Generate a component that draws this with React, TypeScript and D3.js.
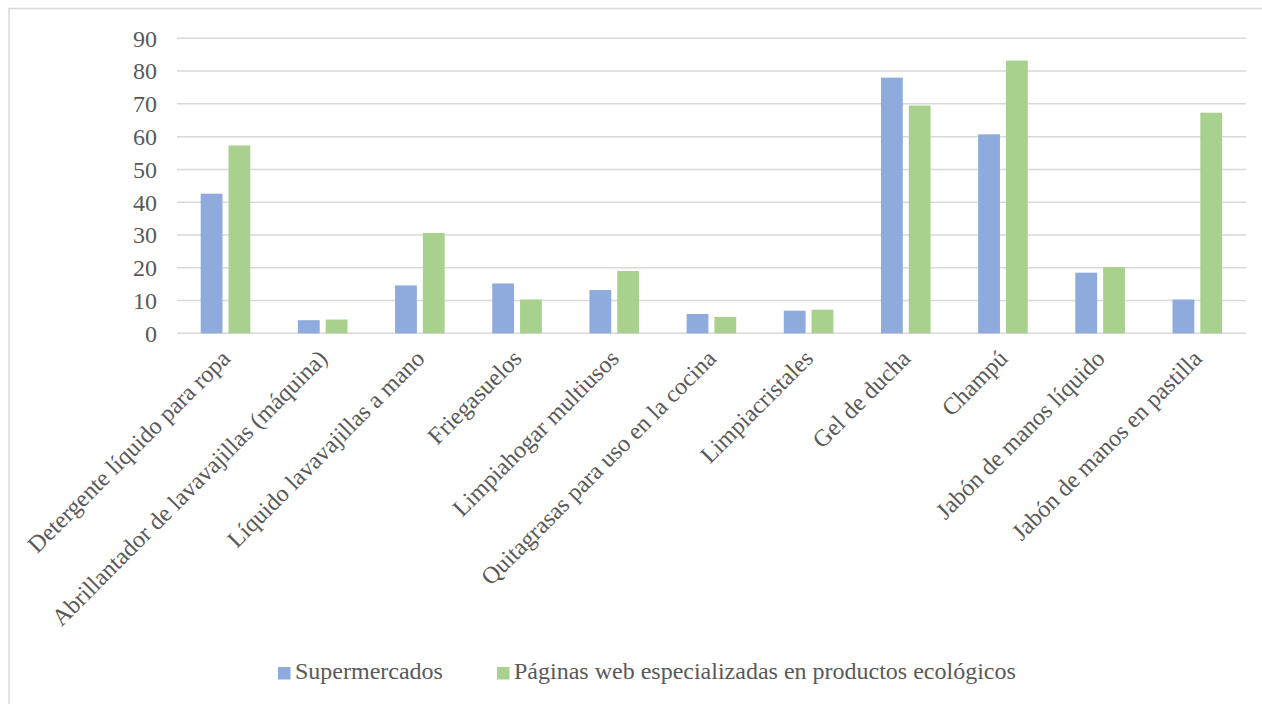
import React from "react";
import * as d3 from "d3";

const categories = [
  "Detergente líquido para ropa",
  "Abrillantador de lavavajillas (máquina)",
  "Líquido lavavajillas a mano",
  "Friegasuelos",
  "Limpiahogar multiusos",
  "Quitagrasas para uso en la cocina",
  "Limpiacristales",
  "Gel de ducha",
  "Champú",
  "Jabón de manos líquido",
  "Jabón de manos en pastilla",
];
const seriesNames = ["Supermercados", "Páginas web especializadas en productos ecológicos"];
const supermercados = [42.6, 4.0, 14.6, 15.2, 13.2, 5.9, 6.9, 78.0, 60.7, 18.5, 10.3];
const paginasWeb = [57.3, 4.2, 30.6, 10.3, 19.0, 5.0, 7.2, 69.5, 83.2, 20.2, 67.3];
const yTicks = [0, 10, 20, 30, 40, 50, 60, 70, 80, 90];
const colors = ["#8faadc", "#a9d18e"];

const W = 1262;
const H = 704;
const FONT = "'Times New Roman', 'Liberation Serif', 'DejaVu Serif', serif";
const TEXT = "#595959";

export default function App() {
  const left = 177;
  const right = 1246;
  const top = 38.3;
  const bottom = 333.3;
  const x0 = d3.scaleBand<string>().domain(categories).range([left, right]).padding(0);
  const x1 = d3
    .scaleBand<number>()
    .domain([0, 1])
    .range([23.7, 73.3])
    .paddingInner(0.216)
    .paddingOuter(0);
  const y = d3.scaleLinear().domain([0, 90]).range([bottom, top]);
  const values = [supermercados, paginasWeb];
  const textStyle = { fontFamily: FONT, fontSize: "24px", fill: TEXT };

  return (
    <svg
      width={W}
      height={H}
      style={{ position: "absolute", left: 0, top: 0, background: "#fff", fontFamily: FONT }}
    >
      <rect x={9} y={8.5} width={W + 10} height={H + 10} fill="#fff" stroke="#d9d9d9" strokeWidth={1.5} />
      {yTicks.map((t) => (
        <g key={t}>
          <line x1={left} x2={right} y1={y(t)} y2={y(t)} stroke="#d9d9d9" strokeWidth={1.5} />
          <text x={157} y={y(t)} dy="0.35em" textAnchor="end" style={textStyle}>
            {t}
          </text>
        </g>
      ))}
      {categories.map((c, i) => (
        <g key={c}>
          {values.map((vals, s) => (
            <rect
              key={s}
              x={(x0(c) as number) + (x1(s) as number)}
              y={y(vals[i])}
              width={x1.bandwidth()}
              height={y(0) - y(vals[i])}
              fill={colors[s]}
            />
          ))}
        </g>
      ))}
      {categories.map((c) => {
        const cx = (x0(c) as number) + x0.bandwidth() / 2;
        return (
          <text
            key={c}
            transform={`translate(${cx},${354}) rotate(-45)`}
            textAnchor="end"
            dy="0.35em"
            style={textStyle}
          >
            {c}
          </text>
        );
      })}
      <g>
        <rect x={278} y={667} width={12.5} height={12.5} fill={colors[0]} />
        <text x={295} y={679} style={textStyle}>
          {seriesNames[0]}
        </text>
        <rect x={497} y={667} width={12.5} height={12.5} fill={colors[1]} />
        <text x={514} y={679} style={textStyle}>
          {seriesNames[1]}
        </text>
      </g>
    </svg>
  );
}
